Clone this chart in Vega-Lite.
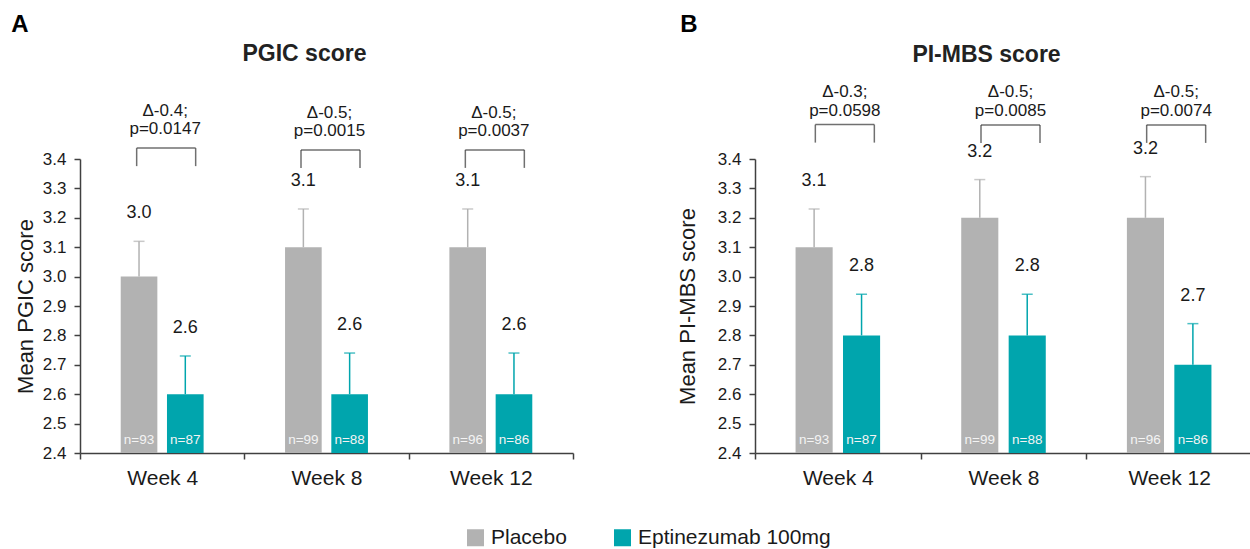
{
  "$schema": "https://vega.github.io/schema/vega-lite/v6.json",
  "padding": {"left": 11, "top": 12, "right": 0, "bottom": 0},
  "config": {
    "font": "Liberation Sans",
    "view": {"stroke": null},
    "axis": {"grid": false, "domainColor": "#404040", "tickColor": "#404040", "labelColor": "#1a1a1a", "titleColor": "#1a1a1a", "domainWidth": 1.5, "tickWidth": 1.5, "tickSize": 6, "titleFontWeight": "normal"},
    "axisY": {"labelFontSize": 17, "titleFontSize": 22, "labelPadding": 8, "titlePadding": 5, "labelOverlap": false},
    "axisX": {"labelFontSize": 21, "labelAngle": 0, "labelPadding": 8, "tickBand": "extent"},
    "legend": {"padding": 0, "labelLimit": 400}
  },
  "datasets": {
    "bars": [
      {"panel": "A", "week": "Week 4", "group": "Placebo", "value": 3.0, "err": 3.12, "nlabel": "n=93"},
      {"panel": "A", "week": "Week 4", "group": "Eptinezumab 100mg", "value": 2.6, "err": 2.73, "nlabel": "n=87"},
      {"panel": "A", "week": "Week 8", "group": "Placebo", "value": 3.1, "err": 3.23, "nlabel": "n=99"},
      {"panel": "A", "week": "Week 8", "group": "Eptinezumab 100mg", "value": 2.6, "err": 2.74, "nlabel": "n=88"},
      {"panel": "A", "week": "Week 12", "group": "Placebo", "value": 3.1, "err": 3.23, "nlabel": "n=96"},
      {"panel": "A", "week": "Week 12", "group": "Eptinezumab 100mg", "value": 2.6, "err": 2.74, "nlabel": "n=86"},
      {"panel": "B", "week": "Week 4", "group": "Placebo", "value": 3.1, "err": 3.23, "nlabel": "n=93"},
      {"panel": "B", "week": "Week 4", "group": "Eptinezumab 100mg", "value": 2.8, "err": 2.94, "nlabel": "n=87"},
      {"panel": "B", "week": "Week 8", "group": "Placebo", "value": 3.2, "err": 3.33, "nlabel": "n=99"},
      {"panel": "B", "week": "Week 8", "group": "Eptinezumab 100mg", "value": 2.8, "err": 2.94, "nlabel": "n=88"},
      {"panel": "B", "week": "Week 12", "group": "Placebo", "value": 3.2, "err": 3.34, "nlabel": "n=96"},
      {"panel": "B", "week": "Week 12", "group": "Eptinezumab 100mg", "value": 2.7, "err": 2.84, "nlabel": "n=86"}
    ],
    "brackets": [
      {"panel": "A", "week": "Week 4", "delta": "Δ-0.4;", "pval": "p=0.0147", "bracket": 3.437},
      {"panel": "A", "week": "Week 8", "delta": "Δ-0.5;", "pval": "p=0.0015", "bracket": 3.431},
      {"panel": "A", "week": "Week 12", "delta": "Δ-0.5;", "pval": "p=0.0037", "bracket": 3.431},
      {"panel": "B", "week": "Week 4", "delta": "Δ-0.3;", "pval": "p=0.0598", "bracket": 3.517},
      {"panel": "B", "week": "Week 8", "delta": "Δ-0.5;", "pval": "p=0.0085", "bracket": 3.516},
      {"panel": "B", "week": "Week 12", "delta": "Δ-0.5;", "pval": "p=0.0074", "bracket": 3.516}
    ]
  },
  "spacing": 102,
  "hconcat": [
    {
      "title": {"text": "A", "anchor": "start", "fontSize": 24, "fontWeight": "bold", "color": "#000000", "offset": 6, "dx": -3},
      "vconcat": [
        {
          "title": {"text": "PGIC score", "fontSize": 23, "fontWeight": "bold", "color": "#222222", "frame": "group", "dx": -22, "offset": 36},
          "width": 493,
          "height": 294,
          "layer": [
            {
              "data": {"name": "bars"},
              "transform": [{"filter": "datum.panel === 'A'"}],
              "encoding": {
                "x": {"field": "week", "type": "nominal", "title": null, "scale": {"domain": ["Week 4", "Week 8", "Week 12"], "paddingInner": 0, "paddingOuter": 0}},
                "xOffset": {"field": "group", "type": "nominal", "scale": {"domain": ["Placebo", "Eptinezumab 100mg"], "paddingInner": 0.208, "paddingOuter": 0.88}}
              },
              "layer": [
                {
                  "mark": {"type": "bar"},
                  "encoding": {
                    "y": {"field": "value", "type": "quantitative", "title": "Mean PGIC score", "scale": {"domain": [2.4, 3.4], "nice": false, "zero": false}, "axis": {"values": [2.4, 2.5, 2.6, 2.7, 2.8, 2.9, 3.0, 3.1, 3.2, 3.3, 3.4], "format": ".1f"}},
                    "y2": {"datum": 2.4},
                    "color": {"field": "group", "type": "nominal", "scale": {"domain": ["Placebo", "Eptinezumab 100mg"], "range": ["#b2b2b2", "#00a5ad"]}, "legend": {"orient": "none", "legendX": 385, "legendY": 368, "direction": "horizontal", "title": null, "symbolType": "square", "symbolSize": 289, "symbolStrokeWidth": 0, "labelFontSize": 21, "labelColor": "#1a1a1a", "labelLimit": 400, "columnPadding": 45, "labelOffset": 5}}
                  }
                },
                {
                  "mark": {"type": "rule", "strokeWidth": 1.5},
                  "encoding": {
                    "y": {"field": "value", "type": "quantitative", "title": "Mean PGIC score", "axis": {"values": [2.4, 2.5, 2.6, 2.7, 2.8, 2.9, 3.0, 3.1, 3.2, 3.3, 3.4], "format": ".1f"}},
                    "y2": {"field": "err"},
                    "color": {"field": "group", "type": "nominal", "legend": null}
                  }
                },
                {
                  "mark": {"type": "tick", "size": 11, "thickness": 1.5, "orient": "horizontal"},
                  "encoding": {
                    "y": {"field": "err", "type": "quantitative", "title": "Mean PGIC score", "axis": {"values": [2.4, 2.5, 2.6, 2.7, 2.8, 2.9, 3.0, 3.1, 3.2, 3.3, 3.4], "format": ".1f"}},
                    "color": {"field": "group", "type": "nominal", "legend": null}
                  }
                },
                {
                  "mark": {"type": "text", "fontSize": 18, "color": "#1a1a1a", "baseline": "middle", "dy": -28},
                  "encoding": {
                    "y": {"field": "err", "type": "quantitative", "title": "Mean PGIC score", "axis": {"values": [2.4, 2.5, 2.6, 2.7, 2.8, 2.9, 3.0, 3.1, 3.2, 3.3, 3.4], "format": ".1f"}},
                    "text": {"field": "value", "type": "quantitative", "format": ".1f"}
                  }
                },
                {
                  "mark": {"type": "text", "fontSize": 13.5, "color": "#f4f4f4", "baseline": "middle", "dy": -13},
                  "encoding": {
                    "y": {"datum": 2.4, "type": "quantitative", "title": "Mean PGIC score", "axis": {"values": [2.4, 2.5, 2.6, 2.7, 2.8, 2.9, 3.0, 3.1, 3.2, 3.3, 3.4], "format": ".1f"}},
                    "text": {"field": "nlabel", "type": "nominal"}
                  }
                }
              ]
            },
            {
              "data": {"name": "brackets"},
              "transform": [{"filter": "datum.panel === 'A'"}],
              "encoding": {
                "x": {"field": "week", "type": "nominal", "title": null},
                "y": {"field": "bracket", "type": "quantitative", "title": "Mean PGIC score", "axis": {"values": [2.4, 2.5, 2.6, 2.7, 2.8, 2.9, 3.0, 3.1, 3.2, 3.3, 3.4], "format": ".1f"}}
              },
              "layer": [
                {"mark": {"type": "tick", "orient": "horizontal", "size": 59, "thickness": 1.5, "color": "#333333", "xOffset": 4}},
                {"mark": {"type": "tick", "orient": "vertical", "size": 18, "thickness": 1.5, "color": "#333333", "xOffset": -25.5, "yOffset": 9}},
                {"mark": {"type": "tick", "orient": "vertical", "size": 18, "thickness": 1.5, "color": "#333333", "xOffset": 33.5, "yOffset": 9}},
                {"mark": {"type": "text", "fontSize": 17, "baseline": "alphabetic", "color": "#1a1a1a", "dy": -14, "xOffset": 3}, "encoding": {"text": {"field": "pval", "type": "nominal"}}},
                {"mark": {"type": "text", "fontSize": 17, "baseline": "alphabetic", "color": "#1a1a1a", "dy": -32, "xOffset": 3}, "encoding": {"text": {"field": "delta", "type": "nominal"}}}
              ]
            }
          ]
        }
      ]
    },
    {
      "title": {"text": "B", "anchor": "start", "fontSize": 24, "fontWeight": "bold", "color": "#000000", "offset": 7, "dx": 4},
      "vconcat": [
        {
          "title": {"text": "PI-MBS score", "fontSize": 23, "fontWeight": "bold", "color": "#222222", "frame": "group", "dx": -17, "offset": 16},
          "width": 497,
          "height": 294,
          "layer": [
            {
              "data": {"name": "bars"},
              "transform": [{"filter": "datum.panel === 'B'"}],
              "encoding": {
                "x": {"field": "week", "type": "nominal", "title": null, "scale": {"domain": ["Week 4", "Week 8", "Week 12"], "paddingInner": 0, "paddingOuter": 0}},
                "xOffset": {"field": "group", "type": "nominal", "scale": {"domain": ["Placebo", "Eptinezumab 100mg"], "paddingInner": 0.218, "paddingOuter": 0.855}}
              },
              "layer": [
                {
                  "mark": {"type": "bar"},
                  "encoding": {
                    "y": {"field": "value", "type": "quantitative", "title": "Mean PI-MBS score", "scale": {"domain": [2.4, 3.4], "nice": false, "zero": false}, "axis": {"values": [2.4, 2.5, 2.6, 2.7, 2.8, 2.9, 3.0, 3.1, 3.2, 3.3, 3.4], "format": ".1f", "titlePadding": 18}},
                    "y2": {"datum": 2.4},
                    "color": {"field": "group", "type": "nominal", "scale": {"domain": ["Placebo", "Eptinezumab 100mg"], "range": ["#b2b2b2", "#00a5ad"]}, "legend": {"orient": "none", "legendX": 385, "legendY": 368, "direction": "horizontal", "title": null, "symbolType": "square", "symbolSize": 289, "symbolStrokeWidth": 0, "labelFontSize": 21, "labelColor": "#1a1a1a", "labelLimit": 400, "columnPadding": 45, "labelOffset": 5}}
                  }
                },
                {
                  "mark": {"type": "rule", "strokeWidth": 1.5},
                  "encoding": {
                    "y": {"field": "value", "type": "quantitative", "title": "Mean PI-MBS score", "axis": {"values": [2.4, 2.5, 2.6, 2.7, 2.8, 2.9, 3.0, 3.1, 3.2, 3.3, 3.4], "format": ".1f", "titlePadding": 18}},
                    "y2": {"field": "err"},
                    "color": {"field": "group", "type": "nominal", "legend": null}
                  }
                },
                {
                  "mark": {"type": "tick", "size": 11, "thickness": 1.5, "orient": "horizontal"},
                  "encoding": {
                    "y": {"field": "err", "type": "quantitative", "title": "Mean PI-MBS score", "axis": {"values": [2.4, 2.5, 2.6, 2.7, 2.8, 2.9, 3.0, 3.1, 3.2, 3.3, 3.4], "format": ".1f", "titlePadding": 18}},
                    "color": {"field": "group", "type": "nominal", "legend": null}
                  }
                },
                {
                  "mark": {"type": "text", "fontSize": 18, "color": "#1a1a1a", "baseline": "middle", "dy": -28},
                  "encoding": {
                    "y": {"field": "err", "type": "quantitative", "title": "Mean PI-MBS score", "axis": {"values": [2.4, 2.5, 2.6, 2.7, 2.8, 2.9, 3.0, 3.1, 3.2, 3.3, 3.4], "format": ".1f", "titlePadding": 18}},
                    "text": {"field": "value", "type": "quantitative", "format": ".1f"}
                  }
                },
                {
                  "mark": {"type": "text", "fontSize": 13.5, "color": "#f4f4f4", "baseline": "middle", "dy": -13},
                  "encoding": {
                    "y": {"datum": 2.4, "type": "quantitative", "title": "Mean PI-MBS score", "axis": {"values": [2.4, 2.5, 2.6, 2.7, 2.8, 2.9, 3.0, 3.1, 3.2, 3.3, 3.4], "format": ".1f", "titlePadding": 18}},
                    "text": {"field": "nlabel", "type": "nominal"}
                  }
                }
              ]
            },
            {
              "data": {"name": "brackets"},
              "transform": [{"filter": "datum.panel === 'B'"}],
              "encoding": {
                "x": {"field": "week", "type": "nominal", "title": null},
                "y": {"field": "bracket", "type": "quantitative", "title": "Mean PI-MBS score", "axis": {"values": [2.4, 2.5, 2.6, 2.7, 2.8, 2.9, 3.0, 3.1, 3.2, 3.3, 3.4], "format": ".1f", "titlePadding": 18}}
              },
              "layer": [
                {"mark": {"type": "tick", "orient": "horizontal", "size": 59, "thickness": 1.5, "color": "#333333", "xOffset": 7}},
                {"mark": {"type": "tick", "orient": "vertical", "size": 18, "thickness": 1.5, "color": "#333333", "xOffset": -22.5, "yOffset": 9}},
                {"mark": {"type": "tick", "orient": "vertical", "size": 18, "thickness": 1.5, "color": "#333333", "xOffset": 36.5, "yOffset": 9}},
                {"mark": {"type": "text", "fontSize": 17, "baseline": "alphabetic", "color": "#1a1a1a", "dy": -9, "xOffset": 7}, "encoding": {"text": {"field": "pval", "type": "nominal"}}},
                {"mark": {"type": "text", "fontSize": 17, "baseline": "alphabetic", "color": "#1a1a1a", "dy": -28, "xOffset": 7}, "encoding": {"text": {"field": "delta", "type": "nominal"}}}
              ]
            }
          ]
        }
      ]
    }
  ],
  "resolve": {"scale": {"x": "independent", "y": "independent", "xOffset": "independent"}}
}
